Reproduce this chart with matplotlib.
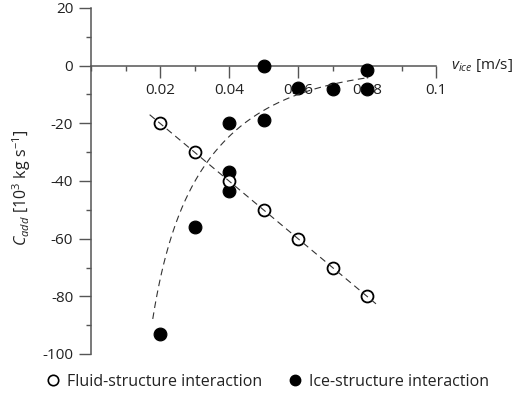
import numpy as np
import matplotlib
matplotlib.use("Agg")
import matplotlib.pyplot as plt
from matplotlib.ticker import MultipleLocator, FixedLocator
from matplotlib.lines import Line2D

plt.rcParams['font.family'] = ['Open Sans', 'DejaVu Sans']
plt.rcParams['mathtext.fontset'] = 'custom'
plt.rcParams['mathtext.rm'] = 'Open Sans'
plt.rcParams['mathtext.it'] = 'Open Sans:italic'
plt.rcParams['axes.unicode_minus'] = False

# fluid-structure interaction (open circles)
fluid_v = [0.02, 0.03, 0.04, 0.05, 0.06, 0.07, 0.08]
fluid_c = [-20, -30, -40, -50, -60, -70, -80]

# ice-structure interaction (filled circles)
ice_v = [0.02, 0.03, 0.04, 0.04, 0.04, 0.05, 0.05, 0.06, 0.07, 0.08, 0.08]
ice_c = [-93, -56, -20, -37, -43.5, 0, -19, -7.6, -8.2, -1.5, -8.2]

# trend curve through the ice data
trend_v = [0.0179, 0.02145, 0.0258, 0.0335, 0.0422, 0.0446, 0.0519, 0.0586, 0.0664, 0.0804]
trend_c = [-88.8, -66.2, -50.0, -34.4, -22.3, -20.0, -14.2, -10.7, -7.3, -4.2]

fit_span = [0.017, 0.0826]

fig = plt.figure(figsize=(5.12, 3.98), dpi=100)
ax = fig.add_axes([91/512, 1 - 354/398, 345/512, 346/398])
ax.set_xlim(0, 0.1)
ax.set_ylim(-100, 20)

spine_col = '#555555'
txt_col = '#222222'
for s in ['top', 'right']:
    ax.spines[s].set_visible(False)
ax.spines['bottom'].set_position(('data', 0))
for s in ['bottom', 'left']:
    ax.spines[s].set_color(spine_col)
    ax.spines[s].set_linewidth(1.1)

ax.xaxis.set_major_locator(FixedLocator([0.02, 0.04, 0.06, 0.08, 0.1]))
ax.xaxis.set_minor_locator(MultipleLocator(0.01))
ax.yaxis.set_major_locator(MultipleLocator(20))
ax.yaxis.set_minor_locator(MultipleLocator(10))
ax.set_xticklabels(['0.02', '0.04', '0.06', '0.08', '0.1'])
ax.tick_params(axis='both', which='major', length=8.3, width=1.0, color=spine_col,
               labelsize=11, labelcolor=txt_col, pad=4.5)
ax.tick_params(axis='both', which='minor', length=3.8, width=1.0, color=spine_col)

lw = 0.8
slope, icpt = np.polyfit(fluid_v, fluid_c, 1)
fv = np.array(fit_span)
ax.plot(fv, slope * fv + icpt, color='#333333', lw=lw, dashes=(6, 4), zorder=6)

# smooth log-log fit through the trend curve
coef = np.polyfit(np.log(trend_v), np.log(-np.array(trend_c)), 3)
tv = np.linspace(min(trend_v), max(trend_v), 200)
ax.plot(tv, -np.exp(np.polyval(coef, np.log(tv))), color='#333333', lw=lw,
        dashes=(6, 4), zorder=6)

ax.plot(ice_v, ice_c, 'o', ms=9.2, mfc='black', mec='black', mew=0.8,
        ls='none', zorder=4, clip_on=False)
ax.plot(fluid_v, fluid_c, 'o', ms=8.6, mfc='white', mec='black', mew=1.3,
        ls='none', zorder=5, clip_on=False)

ax.text(1.043, 1 - (65.7 - 8) / 346, r'$\mathit{v}_{\mathit{ice}}$ [m/s]',
        transform=ax.transAxes, ha='left', va='center', fontsize=11, color=txt_col)
ax.set_ylabel(r'$\mathit{C}_{\mathit{add}}$ [10$^3$ kg s$^{-1}$]', fontsize=11.5,
              color=txt_col)
ax.yaxis.set_label_coords(-0.168, 0.48)

handles = [
    Line2D([], [], marker='o', ls='none', ms=7.5, mfc='white', mec='black', mew=1.2),
    Line2D([], [], marker='o', ls='none', ms=7.5, mfc='black', mec='black'),
]
fig.legend(handles, ['Fluid-structure interaction', 'Ice-structure interaction'],
           loc='center', bbox_to_anchor=(0.52, 1 - 382/398), ncol=2, frameon=False,
           fontsize=11.5, handletextpad=0.3, columnspacing=1.4, handlelength=1.2,
           labelcolor=txt_col)

fig.savefig('out.png', dpi=100)
